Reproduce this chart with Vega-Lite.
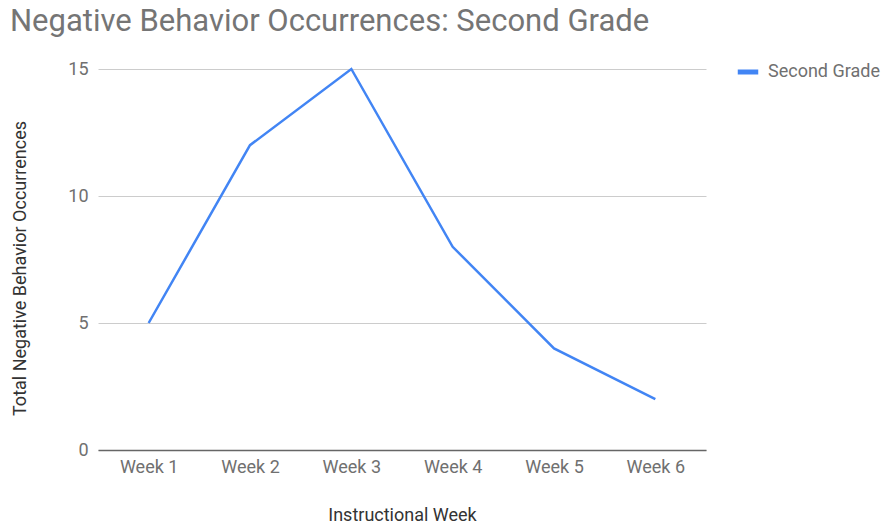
{
  "$schema": "https://vega.github.io/schema/vega-lite/v6.json",
  "width": 608,
  "height": 381,
  "autosize": "none",
  "padding": {"left": 98, "top": 69, "right": 178, "bottom": 73},
  "background": "white",
  "config": {
    "font": "Roboto",
    "view": {"stroke": null}
  },
  "title": {
    "text": "Negative Behavior Occurrences: Second Grade",
    "anchor": "start",
    "frame": "group",
    "dx": -88,
    "fontSize": 31,
    "font": "Roboto",
    "fontWeight": "normal",
    "color": "#757575",
    "offset": 21
  },
  "data": {
    "values": [
      {"week": "Week 1", "value": 5, "series": "Second Grade"},
      {"week": "Week 2", "value": 12, "series": "Second Grade"},
      {"week": "Week 3", "value": 15, "series": "Second Grade"},
      {"week": "Week 4", "value": 8, "series": "Second Grade"},
      {"week": "Week 5", "value": 4, "series": "Second Grade"},
      {"week": "Week 6", "value": 2, "series": "Second Grade"}
    ]
  },
  "mark": {"type": "line", "strokeWidth": 2.5},
  "encoding": {
    "x": {
      "field": "week",
      "type": "ordinal",
      "sort": null,
      "scale": {"type": "point", "padding": 0.5},
      "axis": {
        "title": "Instructional Week",
        "labelAngle": 0,
        "labelFontSize": 18,
        "labelColor": "#707070",
        "labelPadding": 8,
        "ticks": false,
        "grid": false,
        "domainColor": "#666666",
        "domainWidth": 1.5,
        "titleFontSize": 18,
        "titleFontWeight": "normal",
        "titleColor": "#333333",
        "titleX": 304,
        "titleY": 65,
        "titleBaseline": "middle"
      }
    },
    "y": {
      "field": "value",
      "type": "quantitative",
      "scale": {"domain": [0, 15], "nice": false},
      "axis": {
        "title": "Total Negative Behavior Occurrences",
        "values": [0, 5, 10, 15],
        "labelFontSize": 18,
        "labelColor": "#707070",
        "labelPadding": 10,
        "ticks": false,
        "domain": false,
        "gridColor": "#cccccc",
        "titleFontSize": 18,
        "titleFontWeight": "normal",
        "titleColor": "#333333",
        "titleX": -78,
        "titleY": 199,
        "titleBaseline": "middle"
      }
    },
    "color": {
      "field": "series",
      "type": "nominal",
      "scale": {"range": ["#4285F4"]},
      "legend": {
        "title": null,
        "orient": "none",
        "legendX": 637,
        "legendY": -10,
        "symbolType": "stroke",
        "symbolStrokeWidth": 5,
        "symbolSize": 420,
        "labelFontSize": 18,
        "labelColor": "#707070",
        "labelOffset": 7
      }
    }
  }
}
